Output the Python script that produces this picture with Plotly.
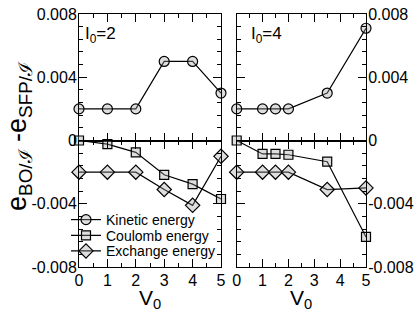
import plotly.graph_objects as go

# Data
x_left = [0, 1, 2, 3, 4, 5]
kin_left = [0.002, 0.002, 0.002, 0.005, 0.005, 0.003]
coul_left = [0.0, -0.00023, -0.00075, -0.00217, -0.00276, -0.0037]
exch_left = [-0.002, -0.002, -0.002, -0.0031, -0.0041, -0.001]

x_right = [0, 1, 1.5, 2, 3.5, 5]
kin_right = [0.002, 0.002, 0.002, 0.002, 0.003, 0.0071]
coul_right = [0.0, -0.00085, -0.00085, -0.0009, -0.00134, -0.0061]
exch_right = [-0.002, -0.002, -0.002, -0.002, -0.0031, -0.003]

series_names = ["Kinetic energy", "Coulomb energy", "Exchange energy"]
panel_labels = ["I<sub>0</sub>=2", "I<sub>0</sub>=4"]
xticks = [0, 1, 2, 3, 4, 5]
top_ticks = [0.004, 0.008]
top_ticktext = ["0.004", "0.008"]
bot_ticks = [-0.008, -0.004, 0]
bot_ticktext = ["-0.008", "-0.004", "0"]

W, H = 415, 312
FONT = "Liberation Sans, Arial, sans-serif"
fill = "rgba(160,160,160,0.35)"

def px_x(a, b):
    return [a / W, b / W]

def px_y(top, bottom):
    return [1 - bottom / H, 1 - top / H]

fig = go.Figure()

symbols = ["circle", "square", "diamond"]
sizes = [10, 9, 11]
legend_ids = ["legend", "legend2", "legend3"]

def add(xv, yv, xa, ya, i, show):
    fig.add_trace(go.Scatter(
        x=xv, y=yv, xaxis=xa, yaxis=ya, mode="lines+markers",
        name=series_names[i], showlegend=show, legend=legend_ids[i],
        line=dict(color="black", width=1.2),
        marker=dict(symbol=symbols[i], size=sizes[i], color=fill,
                    line=dict(color="black", width=1.2)),
        cliponaxis=False,
    ))

add(x_left, kin_left, "x", "y", 0, True)
add(x_left, coul_left, "x2", "y2", 1, True)
add(x_left, exch_left, "x2", "y2", 2, True)
add(x_right, kin_right, "x3", "y3", 0, False)
add(x_right, coul_right, "x4", "y4", 1, False)
add(x_right, exch_right, "x4", "y4", 2, False)

xl = px_x(79, 221)
xr = px_x(236.7, 366)
yt = px_y(14, 140.5)
yb = px_y(140.5, 267)

def xaxis(dom, anchor, labels):
    return dict(domain=dom, anchor=anchor, range=[0, 5], tickvals=xticks,
                showticklabels=labels, ticks="inside", ticklen=8, tickwidth=1,
                tickcolor="black", showline=True, linecolor="black", linewidth=1,
                mirror="allticks", showgrid=False, zeroline=False, automargin=False,
                ticklabelstandoff=-1,
                tickfont=dict(family=FONT, size=16, color="black"),
                minor=dict(dtick=0.5, tick0=0, ticks="inside", ticklen=4,
                           tickcolor="black", showgrid=False))

def yaxis(dom, anchor, tv, tt, rng, side):
    return dict(domain=dom, anchor=anchor, range=rng, tickvals=tv, ticktext=tt,
                side=side, ticks="inside", ticklen=8, tickwidth=1,
                tickcolor="black", showline=True, linecolor="black", linewidth=1,
                mirror="allticks", showgrid=False, zeroline=False, automargin=False,
                ticklabelstandoff=-2,
                tickfont=dict(family=FONT, size=16, color="black"),
                minor=dict(dtick=0.0008, tick0=0, ticks="inside", ticklen=4,
                           tickcolor="black", showgrid=False))

def legend(yc):
    return dict(x=66 / W, y=1 - yc / H, xanchor="left", yanchor="middle",
                bgcolor="rgba(0,0,0,0)", font=dict(family=FONT, size=14, color="black"),
                itemwidth=30)

fig.update_layout(
    width=W, height=H, margin=dict(l=0, r=0, t=0, b=0),
    paper_bgcolor="white", plot_bgcolor="white",
    xaxis=xaxis(xl, "y", False),
    xaxis2=xaxis(xl, "y2", True),
    xaxis3=xaxis(xr, "y3", False),
    xaxis4=xaxis(xr, "y4", True),
    yaxis=yaxis(yt, "x", top_ticks, top_ticktext, [0, 0.008], "left"),
    yaxis2=yaxis(yb, "x2", bot_ticks, bot_ticktext, [-0.008, 0], "left"),
    yaxis3=yaxis(yt, "x3", top_ticks, top_ticktext, [0, 0.008], "right"),
    yaxis4=yaxis(yb, "x4", bot_ticks, bot_ticktext, [-0.008, 0], "right"),
    legend=legend(220),
    legend2=legend(235.7),
    legend3=legend(251.3),
    showlegend=True,
)

ann = [
    dict(text=panel_labels[0], x=83 / W, y=1 - 35 / H, xref="paper", yref="paper",
         xanchor="left", yanchor="middle", showarrow=False,
         font=dict(family=FONT, size=17, color="black")),
    dict(text=panel_labels[1], x=249 / W, y=1 - 35 / H, xref="paper", yref="paper",
         xanchor="left", yanchor="middle", showarrow=False,
         font=dict(family=FONT, size=17, color="black")),
    dict(text="V<sub>0</sub>", x=150 / W, y=1 - 299 / H, xref="paper", yref="paper",
         xanchor="center", yanchor="middle", showarrow=False,
         font=dict(family=FONT, size=21, color="black")),
    dict(text="V<sub>0</sub>", x=301 / W, y=1 - 299 / H, xref="paper", yref="paper",
         xanchor="center", yanchor="middle", showarrow=False,
         font=dict(family=FONT, size=21, color="black")),
    dict(text="e<sub>BO/ℐ</sub> -e<sub>SFP/ℐ</sub>", x=19 / W, y=1 - 136 / H,
         xref="paper", yref="paper", xanchor="center", yanchor="middle",
         showarrow=False, textangle=-90,
         font=dict(family=FONT, size=27, color="black")),
]
fig.update_layout(annotations=ann)

fig.write_html(
    "out.html",
    config={"displayModeBar": False},
    post_script="document.body.style.margin='0';document.body.style.overflow='hidden';",
)
